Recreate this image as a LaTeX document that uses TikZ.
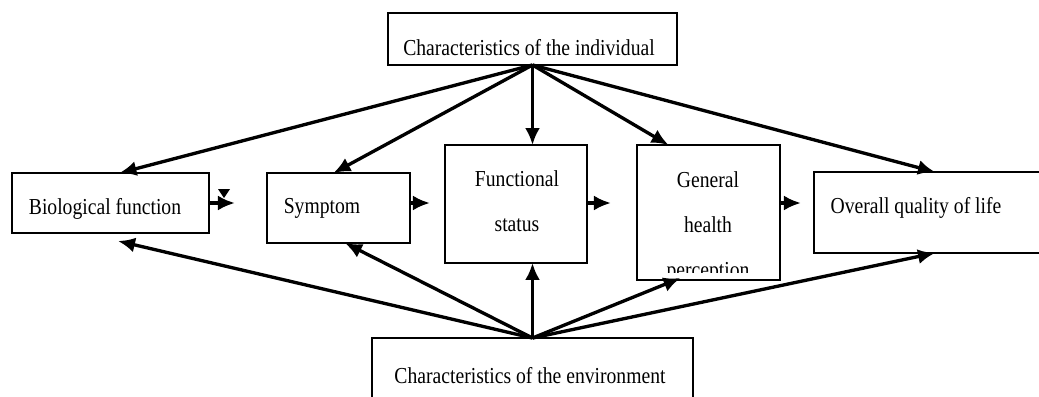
\documentclass[tikz,border=0pt]{standalone}
\usepackage{fontspec}
\setmainfont{Liberation Serif}[FakeStretch=0.86]
\usetikzlibrary{arrows.meta,positioning}

\begin{document}
\begin{tikzpicture}[x=0.02cm,y=-0.02cm,
    box/.style={draw,line width=1.1pt,inner sep=0pt,outer sep=0pt},
    txt/.style={anchor=base,inner sep=0pt,font=\fontsize{13}{15}\selectfont},
    arr/.style={line width=1.9pt,-{Latex[length=0.34cm,width=0.3cm]}}]
            % frame
            \useasboundingbox (0,0) rectangle (1039,396);
            \clip (0,0) rectangle (1039,396);
            % Boxes
            \node[box,minimum width=5.78cm,minimum height=1.04cm] (indiv) at (532.5,39) {};
            \node[box,minimum width=3.94cm,minimum height=1.2cm] (bio) at (110.5,203) {};
            \node[box,minimum width=2.86cm,minimum height=1.4cm] (symp) at (338.5,208) {};
            \node[box,minimum width=2.84cm,minimum height=2.36cm] (func) at (516,204) {};
            \node[box,minimum width=2.86cm,minimum height=2.7cm] (gen) at (708.5,212.5) {};
            \node[box,minimum width=4.72cm,minimum height=1.62cm] (over) at (932,212.5) {};
            \node[box,minimum width=6.42cm,minimum height=1.44cm] (env) at (532.5,374) {};
            % Texts
            \node[txt] (indivtxt) at (529,55) {Characteristics of the individual};
            \node[txt] (biotxt) at (105,214) {Biological function};
            \node[txt] (symptxt) at (322,213) {Symptom};
            \node[txt] (functxta) at (517,186) {Functional};
            \node[txt] (functxtb) at (517,231) {status};
            \node[txt] (gentxta) at (708,187) {General};
            \node[txt] (gentxtb) at (708,232) {health};
            \begin{scope}
                \clip (637,145) rectangle (780,272);
                \node[txt] (gentxtc) at (708,277) {perception};
            \end{scope}
            \node[txt] (overtxt) at (916,213) {Overall quality of life};
            \node[txt] (envtxt) at (530,383) {Characteristics of the environment};
            % Main chain
            \draw[arr] (bio.east |- 0,203) -- ++(26,0);
            \fill (218,189) -- (230,189) -- (224,198) -- cycle;
            \draw[arr] (symp.east |- 0,203) -- ++(20,0);
            \draw[arr] (func.east |- 0,203) -- ++(24,0);
            \draw[arr] (gen.east |- 0,203) -- ++(21,0);
            % From the individual
            \draw[arr] (indiv.south) -- ([xshift=0.18cm]bio.north);
            \draw[arr] (indiv.south) -- ([xshift=-0.1cm]symp.north);
            \draw[arr] (indiv.south) -- (indiv.south |- func.north);
            \draw[arr] (indiv.south) -- ([xshift=-0.8cm]gen.north);
            \draw[arr] (indiv.south) -- ([xshift=0.06cm]over.north);
            % From the environment
            \draw[arr] (env.north) -- ([xshift=0.15cm,yshift=-0.16cm]bio.south);
            \draw[arr] (env.north) -- ([xshift=0.13cm]symp.south);
            \draw[arr] (env.north) -- (env.north |- func.south);
            \draw[arr] (env.north) -- ([xshift=-0.56cm,yshift=0.04cm]gen.south);
            \draw[arr] (env.north) -- ([xshift=0.06cm]over.south);
\end{tikzpicture}
\end{document}
